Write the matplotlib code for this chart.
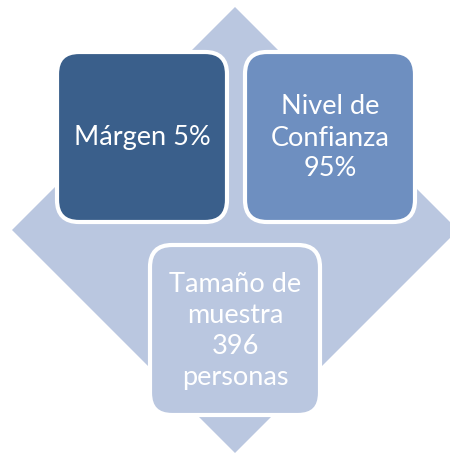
import matplotlib
matplotlib.use("Agg")
import matplotlib.pyplot as plt
from matplotlib.patches import FancyBboxPatch, Polygon

# diagram content
LABELS = ["Márgen 5%", "Nivel de\nConfianza\n95%", "Tamaño de\nmuestra\n396\npersonas"]
FILLS = ["#3A5F8B", "#6E8FC0", "#BAC7E0"]
DIAMOND = "#BAC7E0"

W, H = 450, 453
fig = plt.figure(figsize=(W / 100, H / 100), dpi=100)
ax = fig.add_axes([0, 0, 1, 1])
ax.set_xlim(0, W); ax.set_ylim(H, 0)
ax.axis("off")

# background diamond
cx, cy, r = 235, 230, 223
ax.add_patch(Polygon([(cx, cy - r), (cx + r, cy), (cx, cy + r), (cx - r, cy)],
                     closed=True, fc=DIAMOND, ec="none"))

# rounded boxes (x0, y0, size)
boxes = [(57, 52), (245, 52), (150, 245)]
size = 170
for (x0, y0), lab, fc in zip(boxes, LABELS, FILLS):
    ax.add_patch(FancyBboxPatch((x0, y0), size, size,
                                boxstyle="round,pad=0,rounding_size=22",
                                fc=fc, ec="white", lw=3))
    ax.text(x0 + size / 2, y0 + size / 2 + 1, lab, ha="center", va="center",
            color="white", fontsize=19.5, family=["Lato", "DejaVu Sans"],
            linespacing=1.3)

fig.savefig("out.png", dpi=100)
